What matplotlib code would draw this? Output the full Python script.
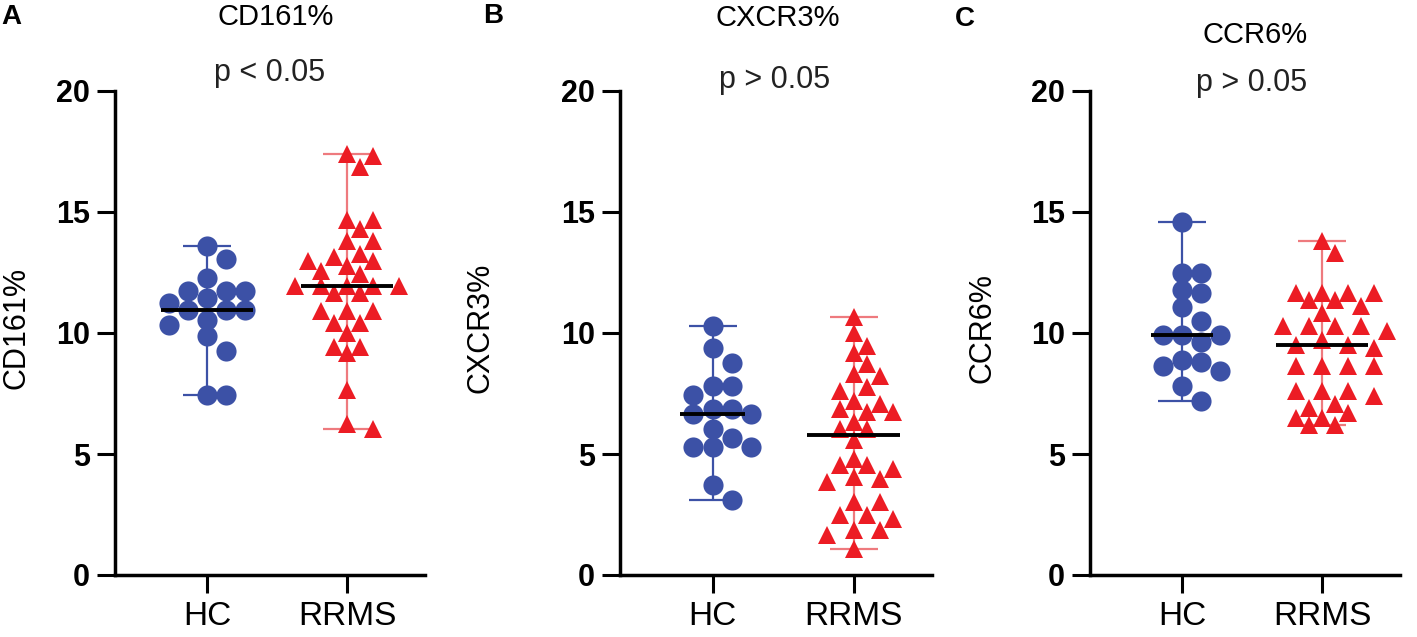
import numpy as np
import matplotlib
matplotlib.use("Agg")
import matplotlib.pyplot as plt

plt.rcParams['font.family'] = ['Liberation Sans', 'DejaVu Sans']

# values
groups = ['HC', 'RRMS']
panel_letters = ['A', 'B', 'C']
markers = ['CD161%', 'CXCR3%', 'CCR6%']
p_texts = ['p < 0.05', 'p > 0.05', 'p > 0.05']

cd161_hc = [13.6, 13.05, 12.29, 11.74, 11.74, 11.74, 11.46, 11.25, 10.95, 10.95,
            10.95, 10.55, 10.35, 9.86, 9.24, 7.43, 7.43]
cd161_rrms = [17.4, 17.3, 16.87, 14.65, 14.65, 14.3, 13.82, 13.82, 13.26, 13.12,
              12.99, 12.99, 12.78, 12.57, 12.43, 11.94, 11.94, 11.94, 11.94, 11.94,
              11.67, 11.67, 10.9, 10.9, 10.9, 10.42, 10.42, 10.0, 9.44, 9.44,
              9.17, 7.64, 6.25, 6.05]

cxcr3_hc = [10.29, 9.4, 8.78, 7.82, 7.82, 7.45, 6.86, 6.86, 6.65, 6.65,
            6.04, 5.67, 5.28, 5.28, 5.28, 3.7, 3.09]
cxcr3_rrms = [10.65, 10.01, 9.47, 9.19, 8.71, 8.3, 8.23, 7.75, 7.59, 7.2,
              7.06, 6.86, 6.72, 6.72, 6.31, 6.04, 6.04, 5.56, 4.8, 4.53,
              4.53, 4.39, 4.05, 3.98, 3.84, 3.02, 3.02, 2.47, 2.47, 2.33,
              1.85, 1.85, 1.65, 1.08]

ccr6_hc = [14.6, 12.47, 12.47, 11.78, 11.65, 11.06, 10.51, 9.93, 9.93, 9.93,
           9.62, 8.9, 8.79, 8.63, 8.42, 7.8, 7.19]
ccr6_rrms = [13.8, 13.29, 11.65, 11.65, 11.65, 11.65, 11.37, 11.37, 11.1, 10.82,
             10.27, 10.27, 10.27, 10.27, 10.07, 9.72, 9.52, 9.52, 9.38, 8.63,
             8.63, 8.63, 8.63, 7.6, 7.6, 7.6, 7.39, 7.05, 6.91, 6.71,
             6.5, 6.5, 6.2, 6.2]

data = [(cd161_hc, cd161_rrms), (cxcr3_hc, cxcr3_rrms), (ccr6_hc, ccr6_rrms)]

# layout, in pixels of the 1417x637 figure
W, H = 1417, 637
ax_lr = [(115, 425), (620, 932), (1090, 1400)]
ax_top, ax_bot = 91, 575
ylab_x = [-0.27, -0.40, -0.30]
title_xy = [(276, 17), (778, 18), (1255, 35)]
p_xy = [(270, 73), (775, 80), (1252, 83)]
letter_xy = [(1, 17), (483, 16), (955, 19)]
med_half = [(0.33, 0.33), (0.23, 0.33), (0.22, 0.33)]

blue = '#3C51A6'
red = '#EC1C24'
red_bar = '#EE7A7E'

XPX = 140.0   # px per category unit
YPX = 24.25   # px per y unit


def swarm(vals, d, step, squeeze=0.85):
    # simple beeswarm in pixel space
    vals = np.asarray(vals, float)
    xs = np.zeros(len(vals))
    placed = []
    cands = [0.0]
    for j in range(1, 12):
        cands += [j * step, -j * step]
    order = np.argsort(-vals)
    for i in order:
        y = vals[i] * YPX
        for c in cands:
            ok = True
            for px, py in placed:
                if (c - px) ** 2 + (y - py) ** 2 < (d * squeeze) ** 2:
                    ok = False
                    break
            if ok:
                break
        placed.append((c, y))
        xs[i] = c
    return xs / XPX


fig = plt.figure(figsize=(W / 100, H / 100), dpi=100)

for k in range(3):
    l, r = ax_lr[k]
    ax = fig.add_axes([l / W, 1 - ax_bot / H, (r - l) / W, (ax_bot - ax_top) / H])
    hc, rr = data[k]

    for gi, (vals, col, barcol, mk, ms, d, step) in enumerate([
            (hc, blue, blue, 'o', 14.5, 19, 19),
            (rr, red, red_bar, '^', 13.5, 17, 13)]):
        vals = np.asarray(vals)
        med = np.median(vals)
        ax.errorbar([gi], [med], yerr=[[med - vals.min()], [vals.max() - med]],
                    fmt='none', ecolor=barcol, elinewidth=1.6, capsize=17,
                    capthick=1.6, zorder=2, clip_on=False)
        xs = gi + swarm(vals, d, step)
        ax.plot(xs, vals, linestyle='none', marker=mk, markersize=ms,
                color=col, markeredgewidth=0, zorder=3, clip_on=False)
        hw = med_half[k][gi]
        ax.hlines(med, gi - hw, gi + hw, color='black', lw=2.8, zorder=4)

    ax.set_xlim(-0.657, 1.557)
    ax.set_ylim(0, 20)
    ax.set_xticks([0, 1])
    ax.set_xticklabels(groups, fontsize=24)
    ax.set_yticks([0, 5, 10, 15, 20])
    ax.set_yticklabels(['0', '5', '10', '15', '20'], fontsize=22, fontweight='bold')
    ax.tick_params(axis='both', width=2.2, length=13, direction='out')
    ax.tick_params(axis='y', pad=5)
    ax.tick_params(axis='x', pad=6)
    for s in ['top', 'right']:
        ax.spines[s].set_visible(False)
    for s in ['left', 'bottom']:
        ax.spines[s].set_linewidth(2.5)
    ax.set_ylabel(markers[k], fontsize=22)
    ax.yaxis.set_label_coords(ylab_x[k], 0.51)

    fig.text(title_xy[k][0] / W, 1 - title_xy[k][1] / H, markers[k],
             fontsize=21, ha='center', va='center')
    fig.text(p_xy[k][0] / W, 1 - p_xy[k][1] / H, p_texts[k],
             fontsize=22, ha='center', va='center', color='#222222')
    fig.text(letter_xy[k][0] / W, 1 - letter_xy[k][1] / H, panel_letters[k],
             fontsize=20, fontweight='bold', ha='left', va='center')

fig.savefig('out.png', dpi=100)
